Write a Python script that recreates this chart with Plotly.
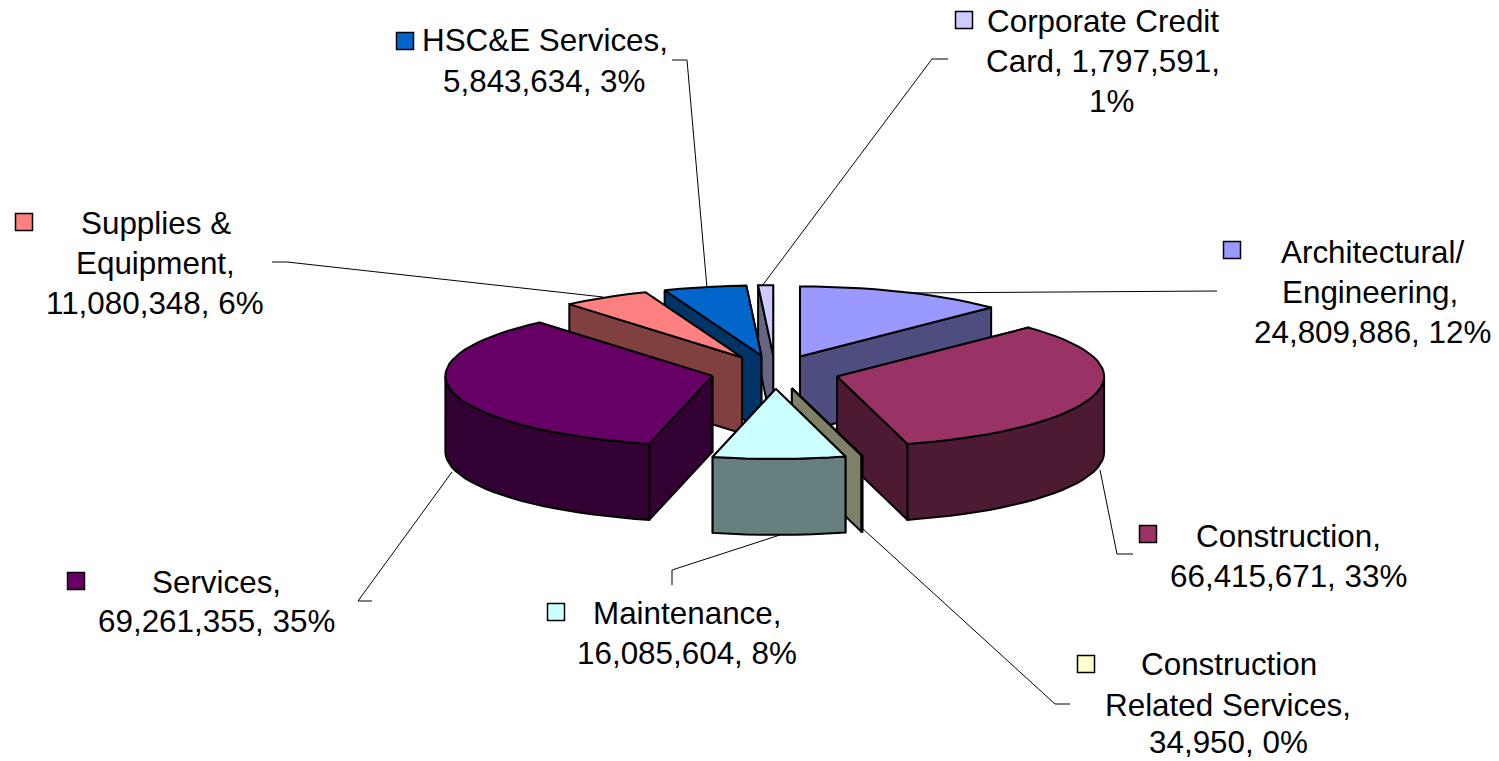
import numpy as np
import plotly.graph_objects as go

# ---- data ----
categories = ["Architectural/ Engineering", "Construction", "Construction Related Services",
              "Maintenance", "Services", "Supplies & Equipment", "HSC&E Services", "Corporate Credit Card"]
amounts = [24809886, 66415671, 34950, 16085604, 69261355, 11080348, 5843634, 1797591]
labelled_pct = [12, 33, 0, 8, 35, 6, 3, 1]
# share of the circle each slice actually occupies in the picture (percent)
drawn_share = [12.7, 33.05, 0.05, 8.0, 35.0, 5.3, 5.0, 0.9]

# ---- styles ----
top_colors = ["#9999FF", "#993366", "#FFFFCC", "#CCFFFF", "#660066", "#FF8080", "#0066CC", "#CCCCFF"]
side_colors = ["#4D4D80", "#4D1A33", "#808066", "#668080", "#330033", "#804040", "#003366", "#666680"]
paint_order = [0, 7, 6, 5, 4, 1, 2, 3]

# ---- layout of the projected pie ----
CX, CY, RX, RY, DEPTH, EXPLODE = 775, 372, 267, 70, 76, 0.241
EDGE = 2
FONT = "Liberation Sans, Arial, sans-serif"
FONT_SIZE = 31.4

# text lines: slice index -> (text, x centre, y centre)
label_lines = [
    ("Architectural/", 1372, 252), ("Engineering,", 1370, 292), ("24,809,886, 12%", 1372, 332),
    ("Construction,", 1288, 536), ("66,415,671, 33%", 1288, 576),
    ("Construction", 1229, 664), ("Related Services,", 1228, 705), ("34,950, 0%", 1228, 742),
    ("Maintenance,", 687, 613), ("16,085,604, 8%", 687, 653),
    ("Services,", 216, 582), ("69,261,355, 35%", 216, 621),
    ("Supplies &", 156, 223), ("Equipment,", 155, 263), ("11,080,348, 6%", 155, 303),
    ("HSC&E Services,", 545, 40), ("5,843,634, 3%", 544, 81),
    ("Corporate Credit", 1103, 21), ("Card, 1,797,591,", 1103, 61), ("1%", 1111, 101),
]
key_x = [1232, 1148, 1086, 556, 76, 24, 405, 964]
key_y = [250, 534, 664, 612, 581, 222, 41, 20]
leaders = [
    ([1217, 905], [291, 293]),
    ([1133, 1117, 1100], [554, 554, 470]),
    ([1070, 1055, 862], [704, 704, 528]),
    ([672, 672, 780], [585, 570, 535]),
    ([372, 358, 452], [601, 601, 472]),
    ([272, 287, 603], [262, 262, 297]),
    ([672, 687, 707], [60, 60, 288]),
    ([948, 932, 762], [59, 59, 286]),
]


def rim(ax, ay, deg):
    t = np.radians(deg)
    return ax + RX * np.sin(t), ay - RY * np.cos(t)


def poly(fig, xs, ys, color):
    fig.add_trace(go.Scatter(
        x=list(xs), y=list(ys), mode="lines", fill="toself", fillcolor=color,
        line=dict(color="black", width=EDGE), hoverinfo="skip", showlegend=False))


fig = go.Figure()

for lx, ly in leaders:
    fig.add_trace(go.Scatter(x=lx, y=ly, mode="lines", line=dict(color="black", width=1),
                             hoverinfo="skip", showlegend=False))

shares = np.array(drawn_share, dtype=float)
ends = np.cumsum(shares) / shares.sum() * 360
starts = np.concatenate([[0], ends[:-1]])

for i in paint_order:
    a0, a1 = starts[i], ends[i]
    mid = np.radians((a0 + a1) / 2)
    ax = CX + EXPLODE * RX * np.sin(mid)
    ay = CY - EXPLODE * RY * np.cos(mid)

    # radial walls, the one further back first
    walls = sorted([a0, a1], key=lambda d: rim(ax, ay, d)[1])
    for d in walls:
        rx_, ry_ = rim(ax, ay, d)
        poly(fig, [ax, rx_, rx_, ax, ax], [ay, ry_, ry_ + DEPTH, ay + DEPTH, ay], side_colors[i])

    # outer wall, only where it faces the viewer
    w0, w1 = max(a0, 90), min(a1, 270)
    if w1 > w0:
        arc = np.linspace(w0, w1, max(3, int((w1 - w0) / 3)))
        px, py = rim(ax, ay, arc)
        poly(fig, np.r_[px, px[::-1], px[0]], np.r_[py, py[::-1] + DEPTH, py[0]], side_colors[i])

    # top face
    arc = np.linspace(a0, a1, max(3, int((a1 - a0) / 3)))
    px, py = rim(ax, ay, arc)
    poly(fig, np.r_[ax, px, ax], np.r_[ay, py, ay], top_colors[i])

# legend keys
fig.add_trace(go.Scatter(
    x=key_x, y=key_y, mode="markers",
    marker=dict(symbol="square", size=17, color=top_colors, line=dict(color="black", width=1.5)),
    hoverinfo="skip", showlegend=False))

for text, x, y in label_lines:
    fig.add_annotation(x=x, y=y, text=text, showarrow=False, xanchor="center", yanchor="middle",
                       font=dict(family=FONT, size=FONT_SIZE, color="black"))

fig.update_layout(
    width=1499, height=761, margin=dict(l=0, r=0, t=0, b=0),
    paper_bgcolor="white", plot_bgcolor="white",
    xaxis=dict(range=[0, 1499], visible=False, fixedrange=True),
    yaxis=dict(range=[761, 0], visible=False, fixedrange=True),
)
fig.write_html("out.html", config={"displayModeBar": False},
               post_script="document.body.style.margin='0';document.body.style.overflow='hidden';")
